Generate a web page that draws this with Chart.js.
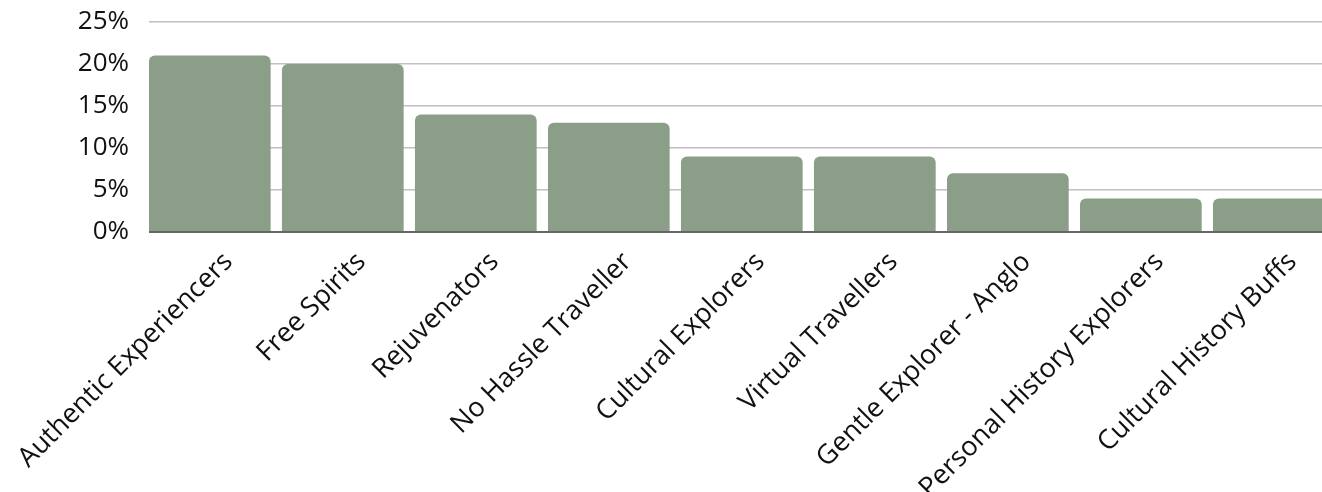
<!DOCTYPE html>
<html>
<head>
<meta charset="utf-8">
<script src="https://cdn.jsdelivr.net/npm/chart.js@4.4.0/dist/chart.umd.min.js"></script>
<style>
  html, body { margin: 0; padding: 0; background: #fff; overflow: hidden; }
  #wrap { position: relative; width: 1345px; height: 492px; }
</style>
</head>
<body>
<div id="wrap"><canvas id="c"></canvas></div>
<script>
const categories = [
  "Authentic Experiencers",
  "Free Spirits",
  "Rejuvenators",
  "No Hassle Traveller",
  "Cultural Explorers",
  "Virtual Travellers",
  "Gentle Explorer - Anglo",
  "Personal History Explorers",
  "Cultural History Buffs"
];
const shares = [21, 20, 14, 13, 9, 9, 7, 4, 4];
const yTicks = [0, 5, 10, 15, 20, 25];

const FONT = "'Open Sans', 'Noto Sans', sans-serif";
const LABEL_SHIFT = 0.14;

new Chart(document.getElementById('c'), {
  type: 'bar',
  data: {
    datasets: [{
      data: shares.map((v, i) => ({ x: i, y: v })),
      backgroundColor: '#8a9e88',
      borderRadius: 6,
      borderSkipped: 'start',
      barPercentage: 0.915,
      categoryPercentage: 1.0
    }]
  },
  options: {
    responsive: true,
    maintainAspectRatio: false,
    animation: false,
    layout: { padding: { top: 22, left: 0, right: 0, bottom: 0 } },
    plugins: { legend: { display: false }, tooltip: { enabled: false } },
    scales: {
      x: {
        type: 'linear',
        min: -0.457,
        max: 8.535,
        offset: false,
        bounds: 'data',
        grid: { display: false, offset: false },
        border: { display: false },
        afterBuildTicks: (s) => { s.ticks = categories.map((_, i) => ({ value: i + LABEL_SHIFT })); },
        afterDataLimits: (s) => { s.min = -0.457; s.max = 8.535; },
        ticks: {
          color: '#111',
          font: { family: FONT, size: 27 },
          minRotation: 45,
          maxRotation: 45,
          autoSkip: false,
          padding: 6,
          callback: (v) => categories[Math.round(v - LABEL_SHIFT)]
        },
        afterFit: (s) => { s.height = 260; s.paddingLeft = 0; s.paddingRight = 0; }
      },
      y: {
        min: 0,
        max: 25,
        afterBuildTicks: (s) => { s.ticks = yTicks.map(v => ({ value: v })); },
        grid: {
          drawTicks: false,
          color: (ctx) => ctx.tick && ctx.tick.value === 0 ? '#666666' : '#c0c0c0',
          lineWidth: (ctx) => ctx.tick && ctx.tick.value === 0 ? 2 : 1.5
        },
        border: { display: false },
        ticks: {
          color: '#111',
          font: { family: FONT, size: 26 },
          padding: 20,
          callback: (v) => v + '%'
        },
        afterFit: (s) => { s.width = 149; s.paddingTop = 0; s.paddingBottom = 0; }
      }
    }
  }
});
</script>
</body>
</html>
